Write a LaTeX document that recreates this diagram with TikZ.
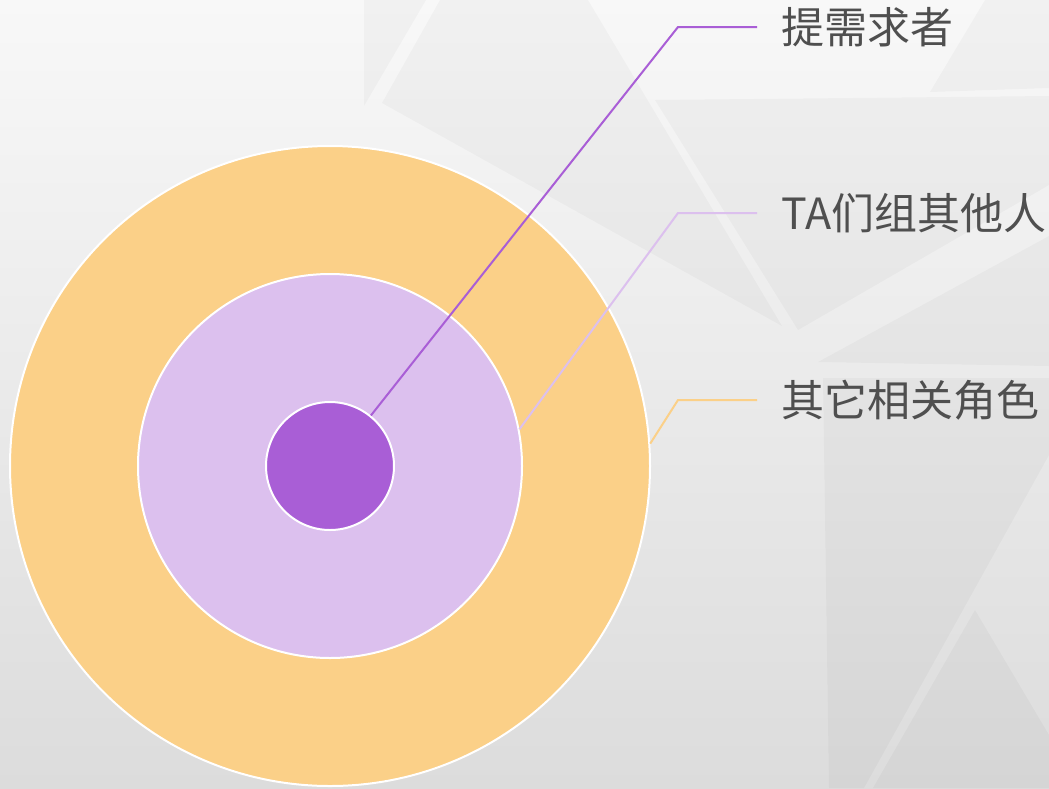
\documentclass[tikz,border=0pt]{standalone}
\usepackage{fontspec}
\newfontfamily\cjk{Noto Sans CJK SC}
\definecolor{bgtop}{HTML}{F8F8F8}
\definecolor{bgbot}{HTML}{DCDCDC}
\definecolor{ringout}{HTML}{FBD088}
\definecolor{ringmid}{HTML}{DCC0EE}
\definecolor{ringin}{HTML}{A95ED6}
\definecolor{txt}{HTML}{4F4F4F}
\tikzset{
  ring/.style={circle, draw=white, line width=2pt, inner sep=0pt},
  facet/.style={fill=black, opacity=0.028},
  lbl/.style={anchor=west, inner sep=0pt, inner xsep=24pt, text=txt, font=\cjk\fontsize{43}{47}\selectfont},
  lead/.style={line width=2pt}
}
\begin{document}
\begin{tikzpicture}[x=1pt,y=-1pt]
\useasboundingbox (0,0) rectangle (1049,788);
% background
\shade[top color=bgtop, bottom color=bgbot] (0,0) rectangle (1049,788);
\fill[facet] (364,0) -- (426,0) -- (364,106) -- cycle;
\fill[facet] (440,0) -- (588,0) -- (782,326) -- (382,103) -- cycle;
\fill[facet] (985,0) -- (1049,0) -- (1049,88) -- (930,92) -- cycle;
\fill[facet] (655,100) -- (1049,96) -- (1049,185) -- (798,330) -- cycle;
\fill[facet] (818,362) -- (1049,236) -- (1049,366) -- cycle;
\fill[facet] (823,378) -- (1049,378) -- (1049,455) -- (864,788) -- (829,788) -- cycle;
\fill[facet] (975,610) -- (1049,735) -- (1049,788) -- (873,788) -- cycle;
% rings
\node[ring, fill=ringout, minimum size=640pt] (outer) at (330,466) {};
\node[ring, fill=ringmid, minimum size=384pt] (middle) at (330,466) {};
\node[ring, fill=ringin, minimum size=128pt] (inner) at (330,466) {};
% labels
\node[lbl] (l1) at (757,27) {提需求者};
\node[lbl] (l2) at (757,213) {TA们组其他人};
\node[lbl] (l3) at (757,400) {其它相关角色};
% bends
\coordinate (b1) at (678,27);
\coordinate (b2) at (678,213);
\coordinate (b3) at (678,400);
% leaders
\draw[lead, ringin] (inner.51.3) -- (b1) -- (l1.west);
\draw[lead, ringmid] (middle.11.4) -- (b2) -- (l2.west);
\draw[lead, ringout] (outer.4.3) -- (b3) -- (l3.west);
\end{tikzpicture}
\end{document}
